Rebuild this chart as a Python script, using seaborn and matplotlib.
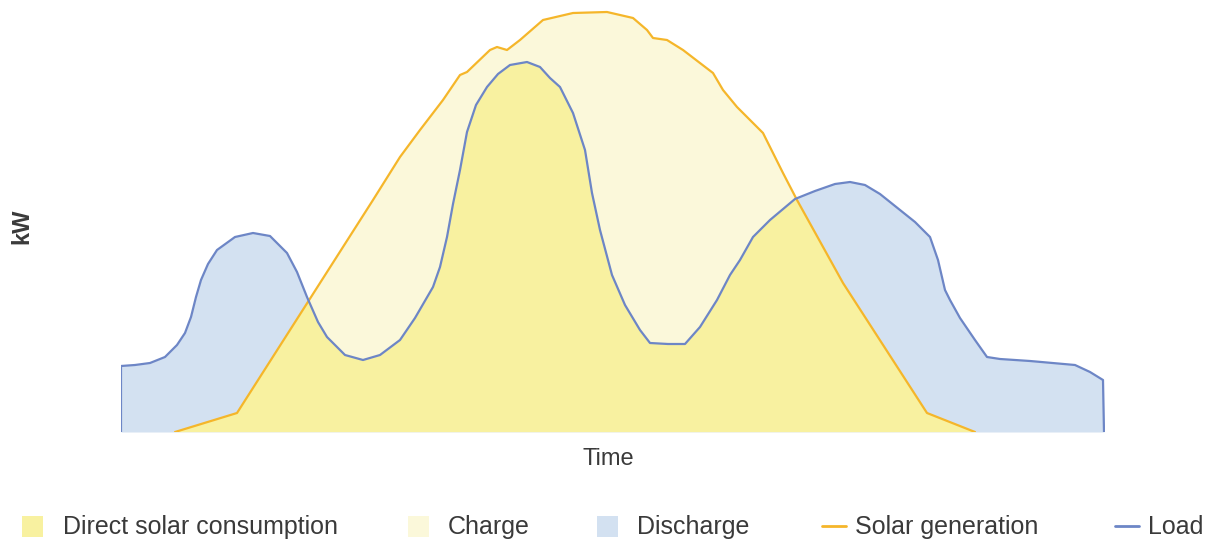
import numpy as np
import seaborn as sns
import matplotlib.pyplot as plt
from matplotlib.patches import Rectangle
from matplotlib.lines import Line2D
from matplotlib.transforms import Affine2D

sns.set_style("white")
plt.rcParams['font.family'] = ['Liberation Sans', 'DejaVu Sans']

# load profile over the day (time, kW)
load_t = [0, 0, 14, 29, 44, 56, 64, 70, 75, 80, 87, 96, 114, 132, 149, 166, 176, 186, 197, 206,
          224, 242, 259, 279, 294, 312, 319, 326, 332, 339, 346, 355, 366, 377, 389, 406, 419,
          429, 439, 452, 464, 471, 479, 491, 504, 519, 529, 547, 564, 579, 596, 609, 619,
          632, 649, 674, 694, 714, 729, 744, 759, 779, 794, 809, 817, 824, 829, 839, 854,
          866, 879, 909, 954, 969, 982, 983]
load_kw = [0, 66, 67, 69, 75, 87, 99, 115, 135, 152, 168, 182, 195, 199, 196, 179, 160, 135, 110, 95,
           77, 72, 77, 92, 114, 145, 165, 195, 228, 262, 300, 327, 345, 358, 367, 370, 365,
           354, 345, 319, 282, 239, 202, 157, 127, 102, 89, 88, 88, 105, 132, 157, 172,
           195, 212, 233, 241, 248, 250, 247, 238, 222, 210, 195, 172, 142, 132, 114, 92,
           75, 73, 71, 67, 60, 52, 0]

# solar generation
solar_t = [54, 116, 252, 279, 299, 322, 339, 346, 369, 376, 386, 399, 422, 452, 486, 512,
           526, 532, 546, 562, 592, 602, 616, 642, 662, 676, 722, 806, 854]
solar_kw = [0, 19, 232, 275, 302, 332, 357, 360, 382, 385, 382, 392, 412, 419, 420, 414,
            402, 394, 392, 382, 359, 342, 325, 299, 259, 232, 149, 19, 0]

labels = ["Direct solar consumption", "Charge", "Discharge", "Solar generation", "Load"]

c_direct = "#f8f1a0"
c_charge = "#fbf8da"
c_discharge = "#d3e1f1"
c_solar = "#f5b62a"
c_load = "#6d86c6"
c_text = "#3a3a3a"

W, H = 1214, 542
fig = plt.figure(figsize=(W / 100, H / 100), dpi=100)
ax = fig.add_axes([121 / W, 110 / H, 984 / W, 422 / H])

# discharge = load area, charge = solar area, direct = load clipped to solar
ax.fill_between(load_t, load_kw, color=c_discharge, lw=0, zorder=1)
solar_area = ax.fill_between(solar_t, solar_kw, color=c_charge, lw=0, zorder=2)
direct = ax.fill_between(load_t, load_kw, color=c_direct, lw=0, zorder=3)
direct.set_clip_path(solar_area.get_paths()[0], transform=ax.transData)

sns.lineplot(x=solar_t, y=solar_kw, sort=False, estimator=None, color=c_solar,
             lw=1.6, ax=ax, zorder=4)
sns.lineplot(x=load_t, y=load_kw, sort=False, estimator=None, color=c_load,
             lw=1.6, ax=ax, zorder=5)

ax.set_xlim(0, 984)
ax.set_ylim(0, 422)
ax.set_xticks([])
ax.set_yticks([])
ax.set_xlabel("")
ax.set_ylabel("")
sns.despine(ax=ax, left=True, bottom=True)

# pixel coordinates for the text and legend
px = Affine2D().scale(1 / W, -1 / H).translate(0, 1) + fig.transFigure

fig.text(608, 459, "Time", transform=px, ha="center", va="center",
         fontsize=17, color=c_text)
fig.text(22, 226, "kW", transform=px, ha="center", va="center", rotation=90,
         fontsize=17, fontweight="bold", color=c_text)

# legend drawn by hand to keep the original spacing
patch_x = [22, 408, 597]
patch_c = [c_direct, c_charge, c_discharge]
text_x = [63, 448, 637, 855, 1148]
for x0, col in zip(patch_x, patch_c):
    fig.add_artist(Rectangle((x0, 537), 21, -21, transform=px, color=col, lw=0))
for x0, col in zip([822, 1115], [c_solar, c_load]):
    fig.add_artist(Line2D([x0, x0 + 24], [526, 526], transform=px, color=col, lw=2))
for x0, lab in zip(text_x, labels):
    fig.text(x0, 527, lab, transform=px, ha="left", va="center",
             fontsize=18, color=c_text)

fig.savefig("out.png", dpi=100)
